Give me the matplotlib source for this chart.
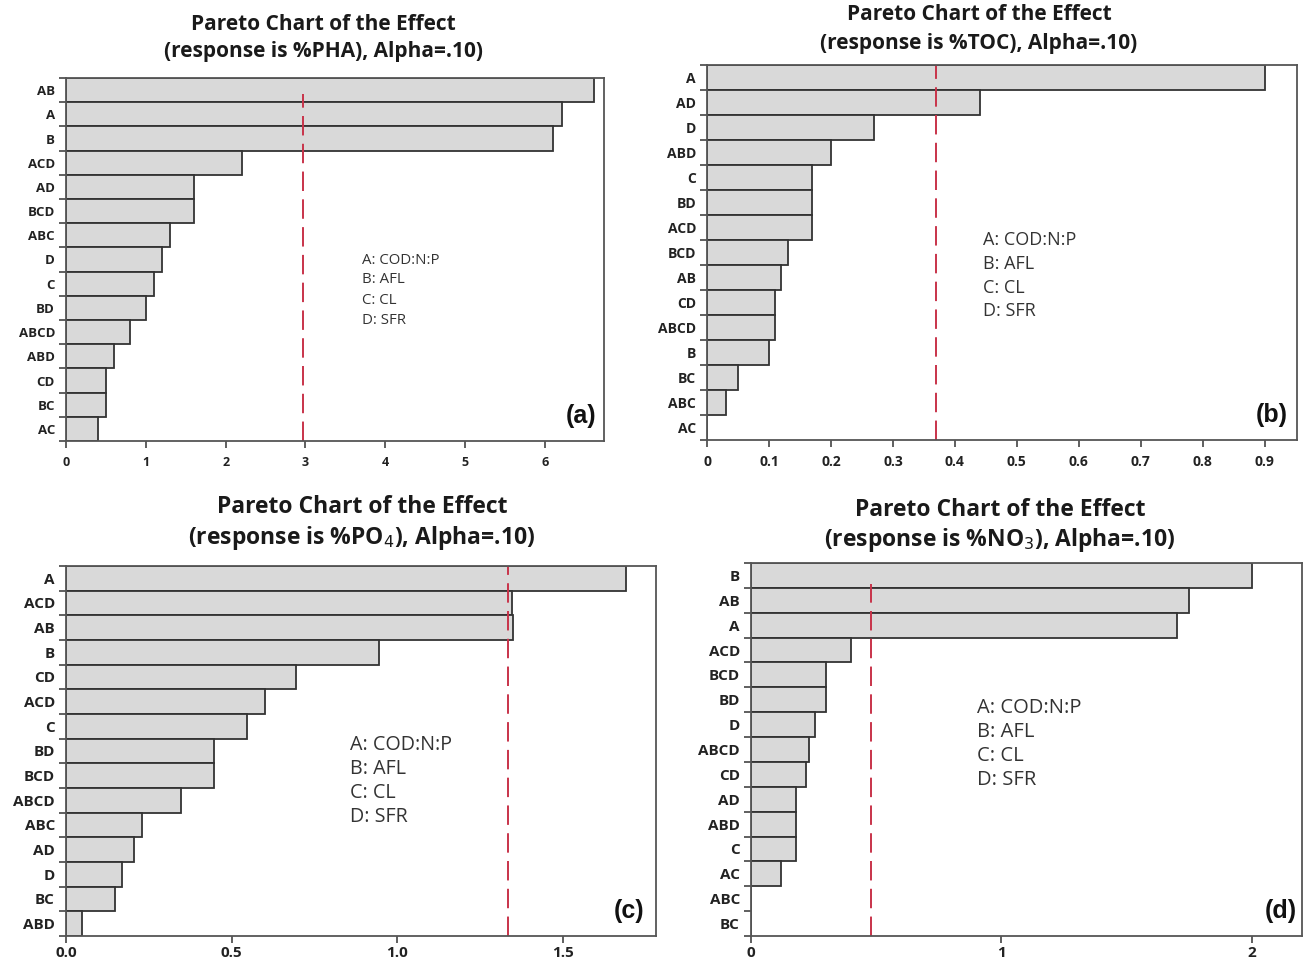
import matplotlib
matplotlib.use("Agg")
import matplotlib.pyplot as plt
import numpy as np

plt.rcParams['font.family'] = ['Open Sans', 'DejaVu Sans']
plt.rcParams['lines.scale_dashes'] = False

# ---- data ----
pha_labels = ["AB", "A", "B", "ACD", "AD", "BCD", "ABC", "D", "C", "BD", "ABCD", "ABD", "CD", "BC", "AC"]
pha_values = [6.62, 6.22, 6.1, 2.2, 1.6, 1.6, 1.3, 1.2, 1.1, 1.0, 0.8, 0.6, 0.5, 0.5, 0.4]
pha_ref = 2.97

toc_labels = ["A", "AD", "D", "ABD", "C", "BD", "ACD", "BCD", "AB", "CD", "ABCD", "B", "BC", "ABC", "AC"]
toc_values = [0.90, 0.44, 0.27, 0.20, 0.17, 0.17, 0.17, 0.13, 0.12, 0.11, 0.11, 0.10, 0.05, 0.03, 0.0]
toc_ref = 0.37

po4_labels = ["A", "ACD", "AB", "B", "CD", "ACD", "C", "BD", "BCD", "ABCD", "ABC", "AD", "D", "BC", "ABD"]
po4_values = [1.69, 1.345, 1.35, 0.945, 0.695, 0.60, 0.547, 0.445, 0.445, 0.347, 0.23, 0.205, 0.17, 0.148, 0.048]
po4_ref = 1.335

no3_labels = ["B", "AB", "A", "ACD", "BCD", "BD", "D", "ABCD", "CD", "AD", "ABD", "C", "AC", "ABC", "BC"]
no3_values = [2.0, 1.75, 1.70, 0.40, 0.30, 0.30, 0.255, 0.23, 0.22, 0.18, 0.18, 0.18, 0.12, 0.0, 0.0]
no3_ref = 0.48

factor_lines = ["A: COD:N:P", "B: AFL", "C: CL", "D: SFR"]

W, H = 1306, 965
fig = plt.figure(figsize=(W / 100, H / 100), dpi=100)


def px_axes(l, r, t, b):
    return fig.add_axes([l / W, 1 - b / H, (r - l) / W, (b - t) / H])


def pareto(ax, labels, values, ref, xmax, xticks, xticklabels, ylab_fs, xlab_fs, xpad,
           ref_top, letter, letter_x):
    n = len(labels)
    y = np.arange(n)
    ax.barh(y, values, height=1.0, color="#d9d9d9", edgecolor="#333333", linewidth=1.3)
    ax.set_ylim(n - 0.5, -0.5)
    ax.set_xlim(0, xmax)
    ax.set_yticks(y)
    ax.set_yticklabels(labels, fontsize=ylab_fs, fontweight="bold", color="#222222")
    ax.tick_params(axis="y", which="major", length=0, pad=8)
    ax.set_yticks(np.arange(n + 1) - 0.5, minor=True)
    ax.tick_params(axis="y", which="minor", length=5, width=1.2, color="#444444", direction="out")
    ax.set_xticks(xticks)
    ax.set_xticklabels(xticklabels, fontsize=xlab_fs, fontweight="bold", color="#222222")
    ax.tick_params(axis="x", length=5, width=1.2, color="#444444", pad=xpad)
    for s in ax.spines.values():
        s.set_color("#555555")
        s.set_linewidth(1.3)
    ax.axvline(ref, ymin=0, ymax=ref_top, color="#c8334a", linewidth=1.4,
               dashes=(14, 6))
    ax.text(letter_x, 0.035, letter, transform=ax.transAxes, fontsize=18, fontweight="bold",
            ha="right", va="bottom", family="Liberation Sans", color="#111111")


def factors(x, ys, fs):
    for yy, t in zip(ys, factor_lines):
        fig.text(x / W, 1 - yy / H, t, fontsize=fs, color="#333333", ha="left", va="center")


# (a)
axa = px_axes(66, 604, 78, 441)
pareto(axa, pha_labels, pha_values, pha_ref, 6.74, range(0, 7), [str(i) for i in range(7)],
       9.5, 9, 6, 0.955, "(a)", 0.985)
factors(362, [260, 280, 300, 321], 10.8)
# (b)
axb = px_axes(707, 1297, 65, 440)
pareto(axb, toc_labels, toc_values, toc_ref, 0.952,
       [0, 0.1, 0.2, 0.3, 0.4, 0.5, 0.6, 0.7, 0.8, 0.9],
       ["0", "0.1", "0.2", "0.3", "0.4", "0.5", "0.6", "0.7", "0.8", "0.9"],
       10, 10, 6, 1.0, "(b)", 0.985)
factors(983, [240, 264, 288, 311], 13)
# (c)
axc = px_axes(66, 656, 566, 936)
pareto(axc, po4_labels, po4_values, po4_ref, 1.78, [0, 0.5, 1.0, 1.5],
       ["0.0", "0.5", "1.0", "1.5"],
       11, 11, 2, 1.0, "(c)", 0.98)
factors(350, [745, 769, 793, 817], 14.2)
# (d)
axd = px_axes(751, 1302, 563, 936)
pareto(axd, no3_labels, no3_values, no3_ref, 2.2, [0, 1, 2], ["0", "1", "2"],
       11, 11, 2, 0.945, "(d)", 0.99)
factors(977, [708, 732, 756, 780], 14.5)


# titles
def title(cx, y1, y2, line2, fs):
    fig.text(cx / W, 1 - y1 / H, "Pareto Chart of the Effect", ha="center", va="center",
             fontsize=fs, fontweight="bold", color="#1a1a1a")
    fig.text(cx / W, 1 - y2 / H, line2, ha="center", va="center",
             fontsize=fs, fontweight="bold", color="#1a1a1a")


title(323, 24, 52, "(response is %PHA), Alpha=.10)", 15)
title(979, 15, 44, "(response is %TOC), Alpha=.10)", 15)
title(362, 507, 538, "(response is %PO$_4$), Alpha=.10)", 16.5)
title(1000, 510, 540, "(response is %NO$_3$), Alpha=.10)", 16.5)

fig.savefig("out.png", dpi=100)
